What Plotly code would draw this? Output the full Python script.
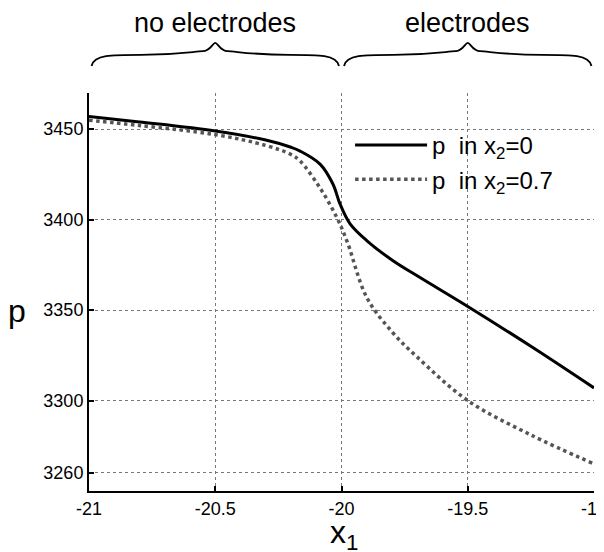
import plotly.graph_objects as go

x_solid = [-21.0, -20.8, -20.5, -20.3, -20.2, -20.164, -20.085, -20.034, -20.006, -19.966, -19.899, -19.796, -19.689, -19.5, -19.25, -19.0]
p_solid = [3457, 3454, 3449, 3444, 3440, 3437.9, 3430.7, 3419.7, 3408.7, 3397.7, 3388.3, 3377.3, 3368.0, 3352, 3330, 3307]

x_dot = [-21.0, -20.8, -20.5, -20.3, -20.2, -20.164, -20.085, -20.018, -19.978, -19.9, -19.8, -19.7, -19.5, -19.25, -19.0]
p_dot = [3455, 3452, 3447, 3441, 3436, 3432.4, 3417.5, 3401, 3388, 3357, 3338, 3324, 3300, 3281, 3265]

x_ticks = [-21, -20.5, -20, -19.5, -19]
x_tick_text = ["-21", "-20.5", "-20", "-19.5", "-19"]
y_ticks = [3260, 3300, 3350, 3400, 3450]

regions = ["no electrodes", "electrodes"]
region_bounds = [(-21.0, -20.0), (-20.0, -19.0)]

FONT = "Liberation Sans, Arial"

fig = go.Figure()
fig.add_trace(go.Scatter(x=x_solid, y=p_solid, mode="lines", name="p  in x<sub>2</sub>=0",
                         line=dict(color="black", width=3, shape="spline")))
fig.add_trace(go.Scatter(x=x_dot, y=p_dot, mode="lines", name="p  in x<sub>2</sub>=0.7",
                         line=dict(color="#555555", width=3.5, dash="dot", shape="spline")))

def brace(x0, x1, yb, ym, yn, yt):
    xm = (x0 + x1) / 2
    w = x1 - x0
    return (f"M {x0},{yb} C {x0+0.01*w},{ym} {x0+0.08*w},{ym} {x0+0.2*w},{ym} "
            f"C {xm-0.15*w},{ym} {xm-0.08*w},{yn} {xm-0.05*w},{yn} "
            f"C {xm-0.02*w},{yn} {xm-0.01*w},{yt} {xm},{yt} "
            f"C {xm+0.01*w},{yt} {xm+0.02*w},{yn} {xm+0.05*w},{yn} "
            f"C {xm+0.08*w},{yn} {xm+0.15*w},{ym} {x1-0.2*w},{ym} "
            f"C {x1-0.08*w},{ym} {x1-0.01*w},{ym} {x1},{yb}")

shapes = []
annotations = []
for name, (a0, a1) in zip(regions, region_bounds):
    shapes.append(dict(type="path", xref="x", yref="paper",
                       path=brace(a0 + 0.01, a1 - 0.01, 1.068, 1.096, 1.105, 1.126),
                       line=dict(color="black", width=1.8)))
    annotations.append(dict(x=(a0 + a1) / 2, y=1.175, xref="x", yref="paper",
                            text=name, showarrow=False, yanchor="middle",
                            font=dict(size=27, color="black", family=FONT)))

annotations.append(dict(x=-19.99, y=-0.11, xref="x", yref="paper", yanchor="middle",
                        text="x<sub>1</sub>", showarrow=False,
                        font=dict(size=32, color="black", family=FONT)))
annotations.append(dict(x=-0.165, y=0.452, xref="paper", yref="paper",
                        text="p", showarrow=False, yanchor="middle",
                        font=dict(size=32, color="black", family=FONT)))

# page body has an 8px margin, so the figure is sized/offset to compensate
fig.update_layout(
    width=596, height=544,
    margin=dict(l=81, r=10, t=85, b=61, autoexpand=False),
    paper_bgcolor="white", plot_bgcolor="white",
    font=dict(family=FONT, color="black", size=18),
    shapes=shapes, annotations=annotations,
    legend=dict(x=0.517, y=0.925, xanchor="left", yanchor="top",
                bgcolor="rgba(0,0,0,0)", font=dict(size=24, color="black"),
                itemwidth=72, tracegroupgap=2),
    showlegend=True,
)
fig.update_xaxes(range=[-21, -19], tickvals=x_ticks, ticktext=x_tick_text,
                 showline=True, linecolor="black", linewidth=2,
                 ticks="inside", ticklen=5, tickwidth=2, tickcolor="black",
                 showgrid=True, gridcolor="#777777", griddash="dot", gridwidth=1,
                 zeroline=False, tickfont=dict(size=18), automargin=False,
                 ticklabeloverflow="allow")
fig.update_yaxes(range=[3250, 3470], tickvals=y_ticks,
                 showline=True, linecolor="black", linewidth=2,
                 ticks="inside", ticklen=5, tickwidth=2, tickcolor="black",
                 showgrid=True, gridcolor="#777777", griddash="dot", gridwidth=1,
                 zeroline=False, tickfont=dict(size=18), automargin=False)

fig.write_html("out.html")
